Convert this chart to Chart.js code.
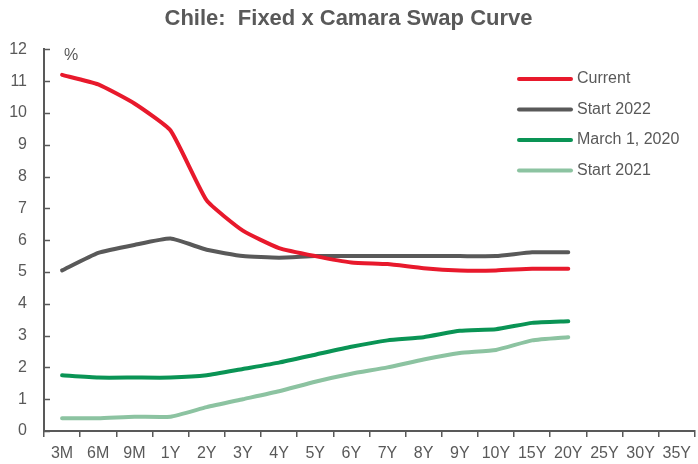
<!DOCTYPE html>
<html>
<head>
<meta charset="utf-8">
<script src="https://cdn.jsdelivr.net/npm/chart.js@4"></script>
<style>
  html, body { margin: 0; padding: 0; background: #fff; }
  #wrap { width: 698px; height: 464px; }
</style>
</head>
<body>
<div id="wrap"><canvas id="myChart" width="698" height="464"></canvas></div>
<script>
// data
let tenors = ["3M", "6M", "9M", "1Y", "2Y", "3Y", "4Y", "5Y", "6Y", "7Y", "8Y", "9Y", "10Y", "15Y", "20Y", "25Y", "30Y", "35Y"];
let current = [11.2, 10.9, 10.3, 9.45, 7.25, 6.3, 5.75, 5.5, 5.3, 5.25, 5.12, 5.05, 5.05, 5.1, 5.1];
let start2022 = [5.05, 5.6, 5.85, 6.05, 5.7, 5.5, 5.45, 5.5, 5.5, 5.5, 5.5, 5.5, 5.5, 5.62, 5.62];
let march2020 = [1.75, 1.68, 1.68, 1.68, 1.75, 1.95, 2.15, 2.4, 2.65, 2.85, 2.95, 3.15, 3.2, 3.4, 3.45];
let start2021 = [0.4, 0.4, 0.45, 0.45, 0.75, 1.0, 1.25, 1.55, 1.8, 2.0, 2.25, 2.45, 2.55, 2.85, 2.95];

let seriesNames = ["Current", "Start 2022", "March 1, 2020", "Start 2021"];
let seriesColors = ["#E8192C", "#595959", "#0A9455", "#8CC3A1"];

let grey = "#595959";
Chart.defaults.font.family = "'Liberation Sans', Arial, sans-serif";
Chart.defaults.color = grey;

// legend drawn inside the plot, top right, plus the % unit label and inward y ticks
const legendInside = {
  id: "legendInside",
  afterDraw(chart) {
    let ctx = chart.ctx;
    let yScale = chart.scales.y;
    ctx.save();
    // y ticks pointing into the plot
    ctx.strokeStyle = grey;
    ctx.lineWidth = 1.5;
    yScale.ticks.forEach((t) => {
      let py = Math.round(yScale.getPixelForValue(t.value)) + 0.5;
      ctx.beginPath();
      ctx.moveTo(yScale.right, py);
      ctx.lineTo(yScale.right + 6, py);
      ctx.stroke();
    });
    ctx.font = "16px 'Liberation Sans', Arial, sans-serif";
    ctx.textBaseline = "middle";
    chart.data.datasets.forEach((ds, i) => {
      let y = 79 + i * 30.5;
      ctx.strokeStyle = ds.borderColor;
      ctx.lineWidth = 4;
      ctx.lineCap = "round";
      ctx.beginPath();
      ctx.moveTo(519, y);
      ctx.lineTo(571, y);
      ctx.stroke();
      ctx.fillStyle = grey;
      ctx.fillText(ds.label, 577, y);
    });
    ctx.fillText("%", 64, 56);
    ctx.restore();
  },
};

let datasets = [current, start2022, march2020, start2021].map((vals, i) => ({
  label: seriesNames[i],
  data: vals,
  borderColor: seriesColors[i],
  backgroundColor: seriesColors[i],
  borderWidth: 4,
  pointRadius: 0,
  tension: 0.15,
  borderCapStyle: "round",
  order: i, // Current drawn on top
}));

new Chart("myChart", {
  type: "line",
  data: { labels: tenors, datasets: datasets },
  options: {
    responsive: false,
    animation: false,
    layout: { padding: { left: 0, right: 1, top: 0, bottom: 0 } },
    plugins: {
      legend: { display: false },
      tooltip: { enabled: false },
      title: {
        display: true,
        text: "Chile:  Fixed x Camara Swap Curve",
        color: grey,
        font: { size: 22, weight: "bold" },
        padding: { top: 6, bottom: 17 },
      },
    },
    scales: {
      x: {
        offset: true,
        grid: { offset: true, drawOnChartArea: false, drawTicks: true, tickLength: 6, color: grey, lineWidth: 1.5 },
        border: { color: grey, width: 2 },
        ticks: { color: grey, font: { size: 16 }, maxRotation: 0, autoSkip: false, padding: 7 },
        afterFit: (scale) => { scale.height = 33; },
      },
      y: {
        min: 0,
        max: 12,
        grid: { drawOnChartArea: false, drawTicks: false },
        border: { color: grey, width: 2 },
        ticks: { stepSize: 1, color: grey, font: { size: 16 }, padding: 17 },
        afterFit: (scale) => { scale.width = 44; },
      },
    },
  },
  plugins: [legendInside],
});
</script>
</body>
</html>
